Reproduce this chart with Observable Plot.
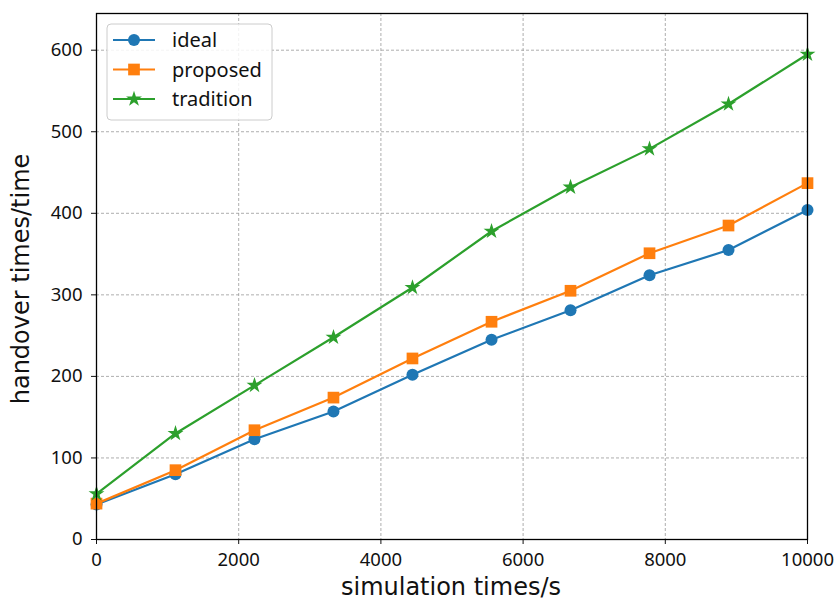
<!DOCTYPE html>
<html>
<head>
<meta charset="utf-8">
<script src="https://cdn.jsdelivr.net/npm/d3@7"></script>
<script src="https://cdn.jsdelivr.net/npm/@observablehq/plot@0.6"></script>
<style>
  html, body { margin: 0; padding: 0; background: #fff; }
  #chart { width: 839px; height: 601px; }
</style>
</head>
<body>
<div id="chart"></div>
<script>
const xValues = [0, 1111, 2222, 3333, 4444, 5556, 6667, 7778, 8889, 10000];
const ideal = [43, 80, 123, 157, 202, 245, 281, 324, 355, 404];
const proposed = [44, 85, 134, 174, 222, 267, 305, 351, 385, 437];
const tradition = [56, 130, 189, 248, 309, 378, 432, 479, 534, 595];
const seriesNames = ["ideal", "proposed", "tradition"];
const seriesColors = ["#1f77b4", "#ff7f0e", "#2ca02c"];
const seriesSymbols = ["circle", "square", "star"];
const xTicks = [0, 2000, 4000, 6000, 8000, 10000];
const yTicks = [0, 100, 200, 300, 400, 500, 600];

const allSeries = [ideal, proposed, tradition];
const data = [];
allSeries.forEach((vals, i) => vals.forEach((v, j) => data.push({x: xValues[j], y: v, s: seriesNames[i]})));

const font = "'Noto Sans', 'DejaVu Sans', sans-serif";
const titleFont = "'DejaVu Sans', 'Noto Sans', sans-serif";
const W = 839, H = 601;
const mL = 96, mR = 32, mT = 13, mB = 62;
const radii = [6, 6.6, 5];

const marks = [
  Plot.gridX(xTicks, {stroke: "#999", strokeOpacity: 1, strokeDasharray: "3,2", strokeWidth: 0.8}),
  Plot.gridY(yTicks, {stroke: "#999", strokeOpacity: 1, strokeDasharray: "3,2", strokeWidth: 0.8}),
  Plot.axisX(xTicks, {tickSize: 5, tickPadding: 8, fontSize: 18.5, label: null, tickFormat: d => String(d)}),
  Plot.axisY(yTicks, {tickSize: 5, tickPadding: 9, fontSize: 18.5, label: null, tickFormat: d => String(d)}),
];
seriesNames.forEach((name, i) => {
  const d = data.filter(r => r.s === name);
  marks.push(Plot.line(d, {x: "x", y: "y", stroke: seriesColors[i], strokeWidth: 2.2}));
  marks.push(Plot.dot(d, {x: "x", y: "y", fill: seriesColors[i], stroke: "none", symbol: seriesSymbols[i], r: radii[i]}));
});
marks.push(Plot.frame({stroke: "black", strokeWidth: 1.3}));

const chart = Plot.plot({
  width: W, height: H,
  marginLeft: mL, marginRight: mR, marginTop: mT, marginBottom: mB,
  style: {fontFamily: font, color: "#111", background: "#fff", overflow: "visible"},
  x: {domain: [0, 10000]},
  y: {domain: [0, 645]},
  marks
});
document.getElementById("chart").appendChild(chart);

const svg = d3.select(chart);
// axis titles
svg.append("text").attr("x", 451).attr("y", 595)
  .attr("text-anchor", "middle").attr("font-size", 24).attr("font-family", titleFont).attr("fill", "#111")
  .text("simulation times/s");
svg.append("text").attr("transform", `translate(29, ${mT + (H - mT - mB) / 2 + 3}) rotate(-90)`)
  .attr("text-anchor", "middle").attr("font-size", 24).attr("font-family", titleFont).attr("fill", "#111")
  .text("handover times/time");

// legend
const lg = svg.append("g");
lg.append("rect").attr("x", 107).attr("y", 24).attr("width", 165).attr("height", 96).attr("rx", 4)
  .attr("fill", "white").attr("fill-opacity", 0.85).attr("stroke", "#ccc");
const sym = {circle: d3.symbolCircle, square: d3.symbolSquare, star: d3.symbolStar};
seriesNames.forEach((name, i) => {
  const cy = 40 + i * 29.5;
  lg.append("line").attr("x1", 113).attr("x2", 155).attr("y1", cy).attr("y2", cy)
    .attr("stroke", seriesColors[i]).attr("stroke-width", 2.2);
  const r = radii[i];
  lg.append("path").attr("d", d3.symbol(sym[seriesSymbols[i]], Math.PI * r * r)())
    .attr("transform", `translate(134, ${cy})`).attr("fill", seriesColors[i]);
  lg.append("text").attr("x", 172).attr("y", cy).attr("dy", "0.35em").attr("text-anchor", "start")
    .attr("font-size", 20).attr("font-family", font).attr("fill", "#111").text(name);
});
</script>
</body>
</html>
